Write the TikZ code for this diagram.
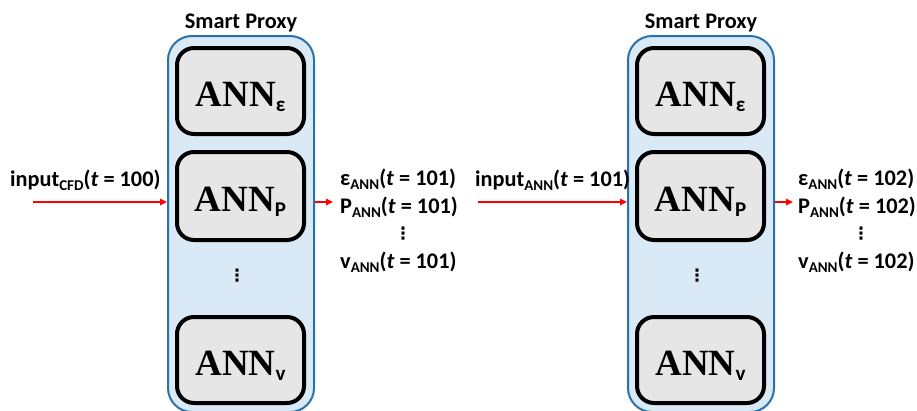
\documentclass[tikz,border=0pt]{standalone}
\usepackage{fontspec}
\newfontfamily\calfont{Carlito}
\newfontfamily\tnrfont{Liberation Serif}
\newfontfamily\dvfont{DejaVu Sans}
\usetikzlibrary{arrows.meta}
\definecolor{proxyblue}{HTML}{2A72AD}
\definecolor{proxyfill}{HTML}{DAE9F6}
\definecolor{boxgray}{HTML}{E6E6E6}
\newcommand{\sbs}[1]{\raisebox{-4pt}{\fontsize{15}{15}\selectfont #1}}
\newcommand{\annlbl}[1]{{\tnrfont\bfseries\fontsize{37}{37}\selectfont ANN}\raisebox{-5pt}{\calfont\bfseries\fontsize{21}{21}\selectfont #1}}
\begin{document}
\begin{tikzpicture}[x=1pt,y=-1pt,
  proxy/.style={draw=proxyblue, line width=2pt, fill=proxyfill, rounded corners=24pt, minimum width=146pt, minimum height=376pt, inner sep=0pt},
  annbox/.style={draw=black, line width=4pt, fill=boxgray, rounded corners=17pt, minimum width=127pt, inner sep=0pt, text height=30pt, text depth=0pt},
  lbl/.style={font=\calfont\bfseries\fontsize{22.3}{22.3}\selectfont, inner sep=0pt, anchor=base west},
  title/.style={font=\calfont\bfseries\fontsize{22.3}{22.3}\selectfont, inner sep=0pt, anchor=base},
  vd/.style={font=\dvfont\bfseries\fontsize{17}{17}\selectfont, inner sep=0pt},
  redarrow/.style={draw=red, line width=1.6pt, -{Triangle[length=7pt,width=6.5pt]}}]
\useasboundingbox (0,0) rectangle (917,410);
% left smart proxy
\node[title] (sp1) at (241,28) {Smart Proxy};
\node[proxy] (p1) at (241,224) {};
\node[annbox, minimum height=86pt] (b1e) at (240.5,91) {\annlbl{ε}};
\node[annbox, minimum height=88pt] (b1p) at (240.5,196) {\annlbl{P}};
\node[vd] (d1) at (237,276) {⋮};
\node[annbox, minimum height=86pt] (b1v) at (240.5,360) {\annlbl{v}};
% right smart proxy
\node[title] (sp2) at (701,28) {Smart Proxy};
\node[proxy] (p2) at (701,224) {};
\node[annbox, minimum height=86pt] (b2e) at (700.5,91) {\annlbl{ε}};
\node[annbox, minimum height=88pt] (b2p) at (700.5,196) {\annlbl{P}};
\node[vd] (d2) at (697,276) {⋮};
\node[annbox, minimum height=86pt] (b2v) at (700.5,360) {\annlbl{v}};
% labels
\node[lbl] (in1) at (10,186) {input\sbs{CFD}(\textit{t} = 100)};
\node[lbl] (o1a) at (340,185) {ε\sbs{ANN}(\textit{t} = 101)};
\node[lbl] (o1b) at (340,213) {P\sbs{ANN}(\textit{t} = 101)};
\node[vd] (o1c) at (403,234) {⋮};
\node[lbl] (o1d) at (340,268) {v\sbs{ANN}(\textit{t} = 101)};
\node[lbl] (in2) at (475,186) {input\sbs{ANN}(\textit{t} = 101)};
\node[lbl] (o2a) at (798,185) {ε\sbs{ANN}(\textit{t} = 102)};
\node[lbl] (o2b) at (798,213) {P\sbs{ANN}(\textit{t} = 102)};
\node[vd] (o2c) at (861,234) {⋮};
\node[lbl] (o2d) at (798,268) {v\sbs{ANN}(\textit{t} = 102)};
% arrows
\coordinate (a1s) at (33,202);
\coordinate (a2e) at (333,202);
\coordinate (a3s) at (478,202);
\coordinate (a4e) at (793,202);
\draw[redarrow] (a1s) -- (a1s -| p1.west);
\draw[redarrow] (p1.east |- a2e) -- (a2e);
\draw[redarrow] (a3s) -- (a3s -| p2.west);
\draw[redarrow] (p2.east |- a4e) -- (a4e);
\end{tikzpicture}
\end{document}
